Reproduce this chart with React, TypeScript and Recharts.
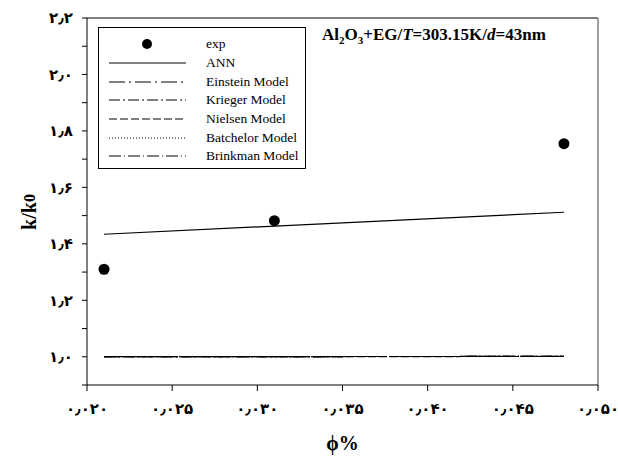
import React from "react";
import {
  ComposedChart,
  Line,
  Scatter,
  XAxis,
  YAxis,
  Legend,
  ReferenceLine,
} from "recharts";

// volume fraction (%) and relative thermal conductivity
const phiExp = [0.021, 0.031, 0.048];
const kExp = [1.31, 1.482, 1.755];

const phiModel = [0.021, 0.048];
const kAnn = [1.434, 1.512];
const kEinstein = [1.0005, 1.0012];
const kKrieger = [1.0005, 1.0012];
const kNielsen = [1.0004, 1.001];
const kBatchelor = [1.0005, 1.0012];
const kBrinkman = [1.0005, 1.0012];

const xTicks = [0.02, 0.025, 0.03, 0.035, 0.04, 0.045, 0.05];
const xTickLabels = ["۰٫۰۲۰", "۰٫۰۲۵", "۰٫۰۳۰", "۰٫۰۳۵", "۰٫۰۴۰", "۰٫۰۴۵", "۰٫۰۵۰"];
const yTicks = [0.9, 1.0, 1.1, 1.2, 1.3, 1.4, 1.5, 1.6, 1.7, 1.8, 1.9, 2.0, 2.1, 2.2];
const yTickLabels = ["", "۱٫۰", "", "۱٫۲", "", "۱٫۴", "", "۱٫۶", "", "۱٫۸", "", "۲٫۰", "", "۲٫۲"];

const toRows = (xs: number[], ys: number[]) => xs.map((phi, i) => ({ phi, k: ys[i] }));

const expData = toRows(phiExp, kExp);
const modelSeries = [
  { name: "ANN", data: toRows(phiModel, kAnn), dash: undefined as string | undefined },
  { name: "Einstein Model", data: toRows(phiModel, kEinstein), dash: "16 4 2 4" },
  { name: "Krieger Model", data: toRows(phiModel, kKrieger), dash: "11 3 2 3" },
  { name: "Nielsen Model", data: toRows(phiModel, kNielsen), dash: "8 3" },
  { name: "Batchelor Model", data: toRows(phiModel, kBatchelor), dash: "1 2" },
  { name: "Brinkman Model", data: toRows(phiModel, kBrinkman), dash: "12 3 1 3" },
];

const serif = "'Liberation Serif', 'Times New Roman', serif";
const tickFont = { fontFamily: "'DejaVu Sans', sans-serif", fontSize: 15, fontWeight: 700, fill: "#000" };

function LegendBox() {
  return (
    <div
      style={{
        border: "1px solid #000",
        width: 208,
        height: 142,
        background: "#fff",
        fontFamily: serif,
        fontSize: 13.5,
        paddingTop: 7,
        boxSizing: "border-box",
        textAlign: "left",
      }}
    >
      <div style={{ display: "flex", alignItems: "center", height: 18.7 }}>
        <svg width={107} height={18}>
          <circle cx={48} cy={9} r={5} fill="#000" />
        </svg>
        <span>exp</span>
      </div>
      {modelSeries.map((s) => (
        <div key={s.name} style={{ display: "flex", alignItems: "center", height: 18.7 }}>
          <svg width={107} height={18}>
            <line x1={10} x2={87} y1={9} y2={9} stroke="#000" strokeWidth={1} strokeDasharray={s.dash} />
          </svg>
          <span>{s.name}</span>
        </div>
      ))}
    </div>
  );
}

function YLabel() {
  return (
    <text
      x={29}
      y={212}
      transform="rotate(-90 29 212)"
      textAnchor="middle"
      dominantBaseline="central"
      fontFamily={serif}
      fontSize={20}
      fontWeight={700}
      fill="#000"
    >
      k/k<tspan fontSize={16}>0</tspan>
    </text>
  );
}

export default function App() {
  return (
    <div style={{ position: "absolute", left: 0, top: 0, width: 618, height: 460, background: "#fff" }}>
      <ComposedChart width={618} height={460} margin={{ top: 18, right: 20, bottom: 0, left: 7 }}>
        <XAxis
          xAxisId="main"
          dataKey="phi"
          type="number"
          domain={[0.02, 0.05]}
          ticks={xTicks}
          tickFormatter={(v: number) => xTickLabels[xTicks.findIndex((t) => Math.abs(t - v) < 1e-9)] ?? ""}
          tick={tickFont}
          tickLine={{ stroke: "#000" }}
          tickSize={6}
          tickMargin={12}
          height={75}
          stroke="#000"
          interval={0}
          allowDataOverflow
          label={{
            value: "ϕ%",
            position: "insideBottom",
            offset: 10,
            style: { fontFamily: serif, fontSize: 20, fontWeight: 700, fill: "#000" },
          }}
        />
        <YAxis
          yAxisId="main"
          dataKey="k"
          type="number"
          domain={[0.9, 2.2]}
          ticks={yTicks}
          tickFormatter={(v: number) => yTickLabels[yTicks.findIndex((t) => Math.abs(t - v) < 1e-6)] ?? ""}
          tick={tickFont}
          tickLine={{ stroke: "#000" }}
          tickSize={5}
          tickMargin={9}
          width={80}
          stroke="#000"
          interval={0}
          allowDataOverflow
          label={<YLabel />}
        />
        <ReferenceLine xAxisId="main" yAxisId="main" y={2.2} stroke="#000" />
        <ReferenceLine xAxisId="main" yAxisId="main" x={0.05} stroke="#808080" strokeWidth={1.5} />
        {modelSeries.map((s) => (
          <Line
            key={s.name}
            xAxisId="main"
            yAxisId="main"
            data={s.data}
            dataKey="k"
            name={s.name}
            stroke="#000"
            strokeWidth={1.2}
            strokeDasharray={s.dash}
            dot={false}
            isAnimationActive={false}
          />
        ))}
        <Scatter
          xAxisId="main"
          yAxisId="main"
          data={expData}
          dataKey="k"
          name="exp"
          fill="#000"
          shape={(p: any) => <circle cx={p.cx} cy={p.cy} r={5.5} fill="#000" />}
          isAnimationActive={false}
        />
        <Legend
          content={<LegendBox />}
          layout="horizontal"
          align="center"
          verticalAlign="middle"
          wrapperStyle={{ left: 98, top: 27, width: 208, height: 142 }}
        />
      </ComposedChart>
      <div
        style={{
          position: "absolute",
          left: 322,
          top: 25,
          fontFamily: serif,
          fontSize: 17,
          fontWeight: 700,
          whiteSpace: "nowrap",
          color: "#000",
        }}
      >
        Al<sub style={{ fontSize: 11 }}>2</sub>O<sub style={{ fontSize: 11 }}>3</sub>+EG/<i>T</i>=303.15K/<i>d</i>=43nm
      </div>
    </div>
  );
}
